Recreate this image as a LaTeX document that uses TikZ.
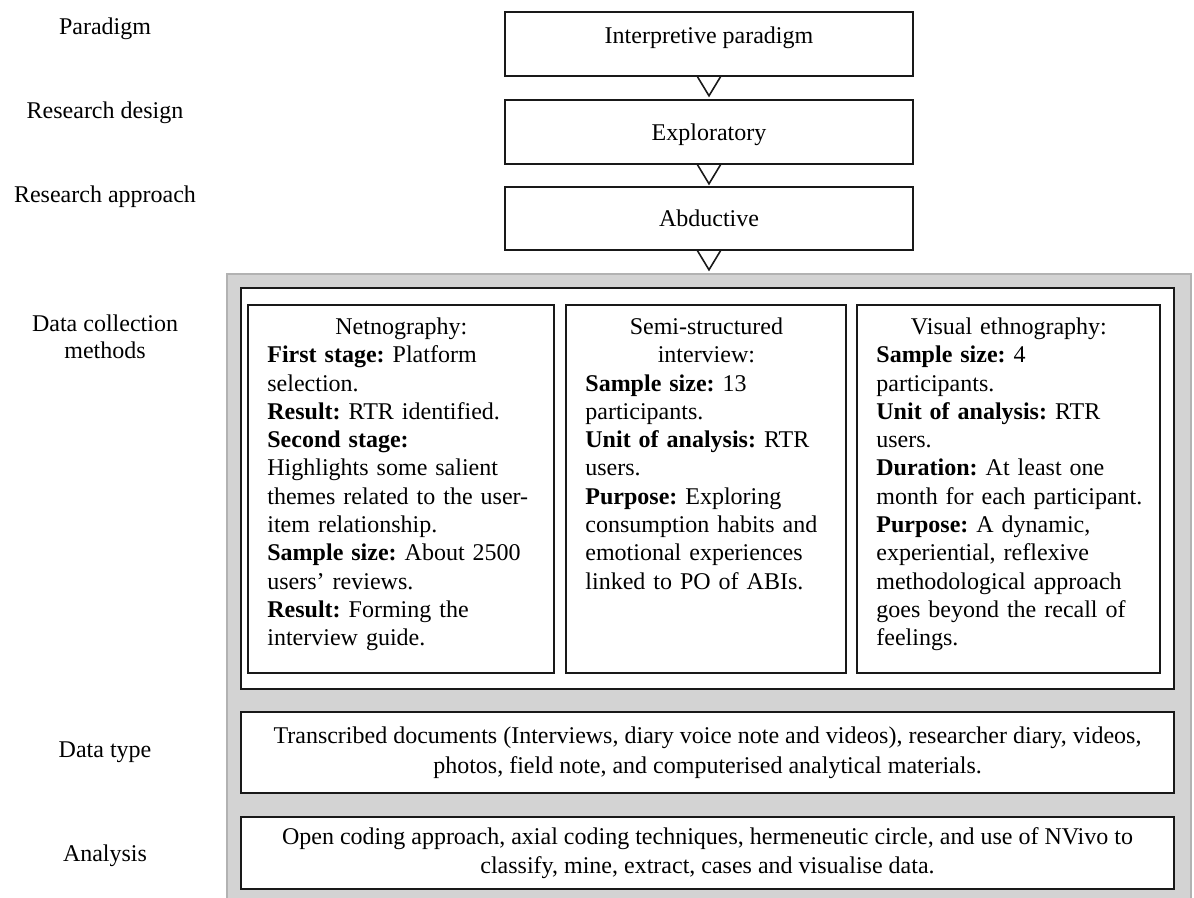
\documentclass[tikz,border=0pt]{standalone}
\usepackage{fontspec}
\setmainfont{Liberation Serif}
\frenchspacing
\definecolor{panelgray}{RGB}{211,211,211}
\definecolor{paneledge}{RGB}{178,178,178}
\begin{document}
\begin{tikzpicture}[x=0.5pt,y=-0.5pt,
  txt/.style={font=\fontsize{12pt}{14.15pt}\selectfont, text=black},
  frame/.style={draw=black!90, line width=0.8pt, fill=white},
  stepbox/.style={frame, txt, minimum width=204pt, minimum height=32pt,
    inner sep=0pt, text height=8.2pt, text depth=0pt},
  sidelabel/.style={txt, align=center, inner sep=0pt, font=\fontsize{12pt}{13.5pt}\selectfont},
  colbox/.style={frame, minimum height=184pt, inner sep=0pt},
  coltext/.style={txt, align=left, inner sep=0pt, anchor=north west},
  widebox/.style={frame, txt, align=center, minimum width=466.5pt, inner sep=0pt},
  chevron/.style={draw=black!90, line width=0.8pt, line join=miter}
]
\useasboundingbox (0,0) rectangle (1194,898);

% side captions
\node[sidelabel] (lpar) at (105,29) {Paradigm};
\node[sidelabel] (ldes) at (105,113) {Research design};
\node[sidelabel] (lapp) at (105,197) {Research approach};
\node[sidelabel] (ldcm) at (105,336.5) {Data collection\\methods};
\node[sidelabel] (ltyp) at (105,752) {Data type};
\node[sidelabel] (lana) at (105,856) {Analysis};

% stacked steps with chevrons
\node[stepbox, text depth=9pt] (para) at (709,44) {Interpretive paradigm};
\node[stepbox] (desi) at (709,132) {Exploratory};
\node[stepbox, minimum height=31.5pt] (appr) at (709,218.5) {Abductive};
\draw[chevron] (para.south) ++(-11.5,0) -- ++(11.5,19) -- ++(11.5,-19);
\draw[chevron] (desi.south) ++(-11.5,0) -- ++(11.5,19) -- ++(11.5,-19);
\draw[chevron] (appr.south) ++(-11.5,0) -- ++(11.5,19) -- ++(11.5,-19);

% grey panel
\fill[panelgray] (227,274) rectangle (1191,900);
\draw[paneledge, line width=0.8pt] (227,900) -- (227,274) -- (1191,274) -- (1191,900);

% data collection methods
\node[frame, minimum width=466.5pt, minimum height=200.5pt, inner sep=0pt] (dcm) at (707.5,488.5) {};
\node[colbox, minimum width=153pt] (net) at (401,489) {};
\node[colbox, minimum width=140pt] (ssi) at (706,489) {};
\node[colbox, minimum width=151.5pt] (vis) at (1008.5,489) {};

\node[coltext, text width=140pt] (nettext) at (267,314.2) {%
\strut\makebox[134pt][c]{Netnography:}\\
\textbf{First stage:} Platform\\
selection.\\
\textbf{Result:} RTR identified.\\
\textbf{Second stage:}\\
Highlights some salient\\
themes related to the user-\\
item relationship.\\
\textbf{Sample size:} About 2500\\
users' reviews.\\
\textbf{Result:} Forming the\\
interview guide.};

\node[coltext, text width=127pt] (ssitext) at (585,314.2) {%
\strut\makebox[121pt][c]{Semi-structured}\\
\makebox[121pt][c]{interview:}\\
\textbf{Sample size:} 13\\
participants.\\
\textbf{Unit of analysis:} RTR\\
users.\\
\textbf{Purpose:} Exploring\\
consumption habits and\\
emotional experiences\\
linked to PO of ABIs.};

\node[coltext, text width=140pt] (vistext) at (876,314.2) {%
\strut\makebox[132.5pt][c]{Visual ethnography:}\\
\textbf{Sample size:} 4\\
participants.\\
\textbf{Unit of analysis:} RTR\\
users.\\
\textbf{Duration:} At least one\\
month for each participant.\\
\textbf{Purpose:} A dynamic,\\
experiential, reflexive\\
methodological approach\\
goes beyond the recall of\\
feelings.};

% data type and analysis
\node[widebox, minimum height=40.5pt, font=\fontsize{12pt}{14.8pt}\selectfont] (dtype) at (707.5,752.5)
  {Transcribed documents (Interviews, diary voice note and videos), researcher diary, videos,\\
   photos, field note, and computerised analytical materials.};
\node[widebox, minimum height=36pt] (anal) at (707.5,853)
  {Open coding approach, axial coding techniques, hermeneutic circle, and use of NVivo to\\
   classify, mine, extract, cases and visualise data.};
\end{tikzpicture}
\end{document}
